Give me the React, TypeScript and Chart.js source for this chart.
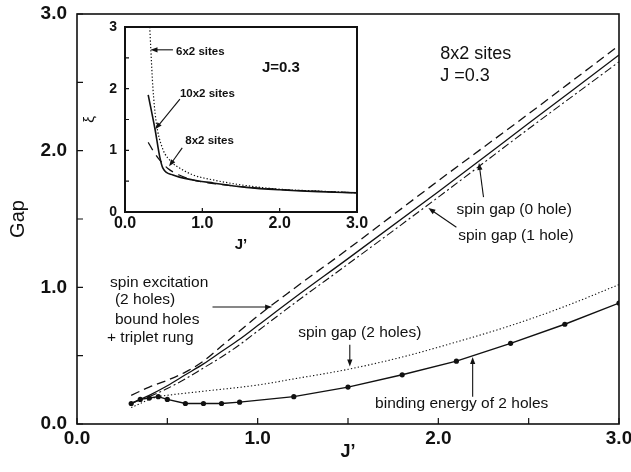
import React, { useEffect, useRef } from "react";
import { Chart, registerables } from "chart.js";
Chart.register(...registerables);

const FONT = "'Liberation Sans', Arial, Helvetica, sans-serif";
const INK = "#111";

// ---- main chart data (J' vs Gap) ----
const excJ = [0.3, 0.4, 0.5, 0.6, 0.7, 0.8, 0.9, 1.0, 1.2, 1.5, 2.0, 2.5, 3.0];
const excGap = [0.21, 0.27, 0.32, 0.38, 0.46, 0.57, 0.68, 0.79, 0.99, 1.28, 1.78, 2.27, 2.77];

const gap0J = [0.3, 0.4, 0.5, 0.6, 0.7, 0.8, 0.9, 1.0, 1.2, 1.5, 2.0, 2.5, 3.0];
const gap0 = [0.15, 0.21, 0.28, 0.36, 0.44, 0.53, 0.62, 0.72, 0.92, 1.21, 1.7, 2.2, 2.7];

const gap1J = [0.4, 0.5, 0.6, 0.7, 0.8, 0.9, 1.0, 1.2, 1.5, 2.0, 2.5, 3.0];
const gap1 = [0.2, 0.26, 0.33, 0.41, 0.49, 0.58, 0.68, 0.88, 1.17, 1.66, 2.16, 2.65];

const gap2J = [0.3, 0.35, 0.4, 0.45, 0.5, 0.7, 1.0, 1.2, 1.5, 1.8, 2.1, 2.4, 2.7, 3.0];
const gap2 = [0.12, 0.15, 0.18, 0.2, 0.21, 0.24, 0.285, 0.33, 0.4, 0.49, 0.6, 0.72, 0.86, 1.02];

const bindJ = [0.3, 0.35, 0.4, 0.45, 0.5, 0.6, 0.7, 0.8, 0.9, 1.2, 1.5, 1.8, 2.1, 2.4, 2.7, 3.0];
const bind = [0.15, 0.18, 0.19, 0.2, 0.18, 0.15, 0.15, 0.15, 0.16, 0.2, 0.27, 0.36, 0.46, 0.59, 0.73, 0.885];

// ---- inset data (J' vs xi) ----
const j6 = [0.32, 0.335, 0.36, 0.4, 0.48, 0.62, 0.71, 0.88, 1.14, 1.5, 2.0, 2.5, 3.0];
const xi6 = [3.0, 2.61, 2.03, 1.49, 1.05, 0.79, 0.71, 0.6, 0.52, 0.44, 0.37, 0.34, 0.31];

const j10 = [0.3, 0.39, 0.45, 0.49, 0.62, 0.88, 1.14, 1.57, 2.0, 2.5, 3.0];
const xi10 = [1.9, 1.33, 0.89, 0.71, 0.6, 0.52, 0.47, 0.4, 0.36, 0.33, 0.31];

const j8 = [0.3, 0.36, 0.45, 0.55, 0.7, 0.85, 1.0, 1.5, 2.0, 3.0];
const xi8 = [1.13, 1.0, 0.84, 0.71, 0.6, 0.53, 0.49, 0.41, 0.365, 0.31];

// ---- annotations (data coordinates) ----
const mainTexts = [
  { text: "8x2 sites", x: 2.01, y: 2.67, size: 18 },
  { text: "J =0.3", x: 2.01, y: 2.51, size: 18 },
  { text: "spin gap (0 hole)", x: 2.1, y: 1.54, size: 15.5 },
  { text: "spin gap (1 hole)", x: 2.11, y: 1.35, size: 15.5 },
  { text: "spin excitation", x: 0.183, y: 1.0, size: 15.5 },
  { text: "(2 holes)", x: 0.21, y: 0.88, size: 15.5 },
  { text: "bound holes", x: 0.21, y: 0.73, size: 15.5 },
  { text: "+ triplet rung", x: 0.166, y: 0.6, size: 15.5 },
  { text: "spin gap (2 holes)", x: 1.224, y: 0.636, size: 15.5 },
  { text: "binding energy of 2 holes", x: 1.65, y: 0.117, size: 15.5 },
];
const mainArrows = [
  { x1: 0.75, y1: 0.856, x2: 1.08, y2: 0.856 },
  { x1: 1.51, y1: 0.58, x2: 1.51, y2: 0.42 },
  { x1: 2.19, y1: 0.2, x2: 2.19, y2: 0.49 },
  { x1: 2.25, y1: 1.66, x2: 2.225, y2: 1.91 },
  { x1: 2.1, y1: 1.44, x2: 1.945, y2: 1.58 },
];
const insetTexts = [
  { text: "6x2 sites", x: 0.66, y: 2.54, size: 11.5, bold: true },
  { text: "10x2 sites", x: 0.71, y: 1.86, size: 11.5, bold: true },
  { text: "8x2 sites", x: 0.78, y: 1.1, size: 11.5, bold: true },
  { text: "J=0.3", x: 1.77, y: 2.27, size: 15, bold: true },
];
const insetArrows = [
  { x1: 0.62, y1: 2.63, x2: 0.33, y2: 2.63 },
  { x1: 0.71, y1: 1.83, x2: 0.39, y2: 1.34 },
  { x1: 0.74, y1: 1.04, x2: 0.57, y2: 0.74 },
];

const pts = (xs: number[], ys: number[]) => xs.map((x, i) => ({ x, y: ys[i] }));
const isInt = (v: number) => Math.abs(v - Math.round(v)) < 1e-6;

function framePlugin(len: number, width: number) {
  return {
    id: "frame",
    afterDraw(chart: any) {
      const { ctx, chartArea: a, scales } = chart;
      ctx.save();
      ctx.strokeStyle = INK;
      ctx.lineWidth = width;
      ctx.strokeRect(a.left, a.top, a.right - a.left, a.bottom - a.top);
      ctx.lineWidth = 1.2;
      ctx.beginPath();
      scales.x.ticks.forEach((t: any) => {
        const px = scales.x.getPixelForValue(t.value);
        ctx.moveTo(px, a.bottom);
        ctx.lineTo(px, a.bottom - len);
      });
      scales.y.ticks.forEach((t: any) => {
        const py = scales.y.getPixelForValue(t.value);
        ctx.moveTo(a.left, py);
        ctx.lineTo(a.left + len, py);
      });
      ctx.stroke();
      ctx.restore();
    },
  };
}

function notesPlugin(texts: any[], arrows: any[]) {
  return {
    id: "notes",
    afterDraw(chart: any) {
      const { ctx, scales } = chart;
      const sx = (v: number) => scales.x.getPixelForValue(v);
      const sy = (v: number) => scales.y.getPixelForValue(v);
      ctx.save();
      ctx.fillStyle = INK;
      ctx.strokeStyle = INK;
      ctx.textAlign = "left";
      ctx.textBaseline = "alphabetic";
      texts.forEach((t) => {
        ctx.font = `${t.bold ? "bold " : ""}${t.size}px ${FONT}`;
        ctx.fillText(t.text, sx(t.x), sy(t.y));
      });
      ctx.lineWidth = 1.1;
      arrows.forEach((a) => {
        const x1 = sx(a.x1), y1 = sy(a.y1), x2 = sx(a.x2), y2 = sy(a.y2);
        const ang = Math.atan2(y2 - y1, x2 - x1);
        const L = 7, W = 2.6;
        ctx.beginPath();
        ctx.moveTo(x1, y1);
        ctx.lineTo(x2 - Math.cos(ang) * L * 0.8, y2 - Math.sin(ang) * L * 0.8);
        ctx.stroke();
        ctx.beginPath();
        ctx.moveTo(x2, y2);
        ctx.lineTo(x2 - Math.cos(ang) * L - Math.sin(ang) * W, y2 - Math.sin(ang) * L + Math.cos(ang) * W);
        ctx.lineTo(x2 - Math.cos(ang) * L + Math.sin(ang) * W, y2 - Math.sin(ang) * L - Math.cos(ang) * W);
        ctx.closePath();
        ctx.fill();
      });
      ctx.restore();
    },
  };
}

const line = (data: any[], dash: number[], width: number, extra: any = {}) => ({
  data,
  borderColor: INK,
  backgroundColor: INK,
  borderWidth: width,
  borderDash: dash,
  pointRadius: 0,
  fill: false,
  cubicInterpolationMode: "monotone",
  ...extra,
});

export default function App() {
  const mainRef = useRef<HTMLCanvasElement>(null);
  const insetRef = useRef<HTMLCanvasElement>(null);

  useEffect(() => {
    const main = new Chart(mainRef.current as HTMLCanvasElement, {
      type: "line",
      data: {
        datasets: [
          line(pts(excJ, excGap), [9, 5], 1.3),
          line(pts(gap0J, gap0), [], 1.3),
          line(pts(gap1J, gap1), [8, 3, 2, 3], 1.1),
          line(pts(gap2J, gap2), [1.3, 2.2], 1.1),
          line(pts(bindJ, bind), [], 1.4, {
            pointRadius: 2.6,
            pointBackgroundColor: INK,
            pointBorderWidth: 0,
            cubicInterpolationMode: "default",
            tension: 0,
          }),
        ] as any,
      },
      options: {
        responsive: false,
        animation: false,
        devicePixelRatio: 1,
        layout: { padding: { left: 0, right: 12, top: 14, bottom: 0 } },
        plugins: { legend: { display: false }, tooltip: { enabled: false } },
        scales: {
          x: {
            type: "linear",
            min: 0,
            max: 3,
            grid: { display: false, drawTicks: false },
            border: { display: false },
            ticks: {
              stepSize: 0.5,
              autoSkip: false,
              maxRotation: 0,
              padding: 3,
              color: INK,
              font: { family: FONT, size: 19, weight: "bold" },
              callback: (v: any) => (isInt(Number(v)) ? Number(v).toFixed(1) : ""),
            },
            title: {
              display: true,
              text: "J’",
              color: INK,
              font: { family: FONT, size: 18, weight: "bold" },
              padding: { top: 0, bottom: 9 },
            },
            afterFit: (s: any) => {
              s.height = 48;
              s.paddingLeft = 0;
              s.paddingRight = 0;
            },
          },
          y: {
            type: "linear",
            min: 0,
            max: 3,
            grid: { display: false, drawTicks: false },
            border: { display: false },
            ticks: {
              stepSize: 0.5,
              autoSkip: false,
              padding: 10,
              color: INK,
              font: { family: FONT, size: 19, weight: "bold" },
              callback: (v: any) => (isInt(Number(v)) ? Number(v).toFixed(1) : ""),
            },
            title: {
              display: true,
              text: "Gap",
              color: INK,
              font: { family: FONT, size: 20 },
              padding: { top: 6, bottom: 0 },
            },
            afterFit: (s: any) => {
              s.width = 77;
              s.paddingTop = 0;
              s.paddingBottom = 0;
            },
          },
        },
      } as any,
      plugins: [framePlugin(6, 1.6), notesPlugin(mainTexts, mainArrows)],
    });

    const inset = new Chart(insetRef.current as HTMLCanvasElement, {
      type: "line",
      data: {
        datasets: [
          line(pts(j6, xi6), [1.3, 2], 1.2),
          line(pts(j10, xi10), [], 1.6),
          line(pts(j8, xi8), [9, 6], 1.3),
        ] as any,
      },
      options: {
        responsive: false,
        animation: false,
        devicePixelRatio: 1,
        layout: { padding: { left: 0, right: 23, top: 9, bottom: 0 } },
        plugins: { legend: { display: false }, tooltip: { enabled: false } },
        scales: {
          x: {
            type: "linear",
            min: 0,
            max: 3,
            grid: { display: false, drawTicks: false },
            border: { display: false },
            ticks: {
              stepSize: 1,
              autoSkip: false,
              maxRotation: 0,
              padding: 1.5,
              color: INK,
              font: { family: FONT, size: 16, weight: "bold" },
              callback: (v: any) => Number(v).toFixed(1),
            },
            title: {
              display: true,
              text: "J’",
              color: INK,
              font: { family: FONT, size: 15, weight: "bold" },
              padding: { top: 0, bottom: 4 },
            },
            afterFit: (s: any) => {
              s.height = 46;
              s.paddingLeft = 0;
              s.paddingRight = 0;
            },
          },
          y: {
            type: "linear",
            min: 0,
            max: 3,
            grid: { display: false, drawTicks: false },
            border: { display: false },
            ticks: {
              stepSize: 0.5,
              autoSkip: false,
              padding: 8,
              color: INK,
              font: { family: FONT, size: 14, weight: "bold" },
              callback: (v: any) => (isInt(Number(v)) ? String(Math.round(Number(v))) : ""),
            },
            title: {
              display: true,
              text: "ξ",
              color: INK,
              font: { family: FONT, size: 15 },
              padding: { top: 1, bottom: 0 },
            },
            afterFit: (s: any) => {
              s.width = 45;
              s.paddingTop = 0;
              s.paddingBottom = 0;
            },
          },
        },
      } as any,
      plugins: [framePlugin(4, 2), notesPlugin(insetTexts, insetArrows)],
    });

    return () => {
      main.destroy();
      inset.destroy();
    };
  }, []);

  return (
    <div style={{ position: "absolute", left: 0, top: 0, width: 631, height: 472, background: "#fff" }}>
      <canvas ref={mainRef} width={631} height={472} style={{ position: "absolute", left: 0, top: 0 }} />
      <canvas ref={insetRef} width={300} height={240} style={{ position: "absolute", left: 80, top: 18 }} />
    </div>
  );
}
